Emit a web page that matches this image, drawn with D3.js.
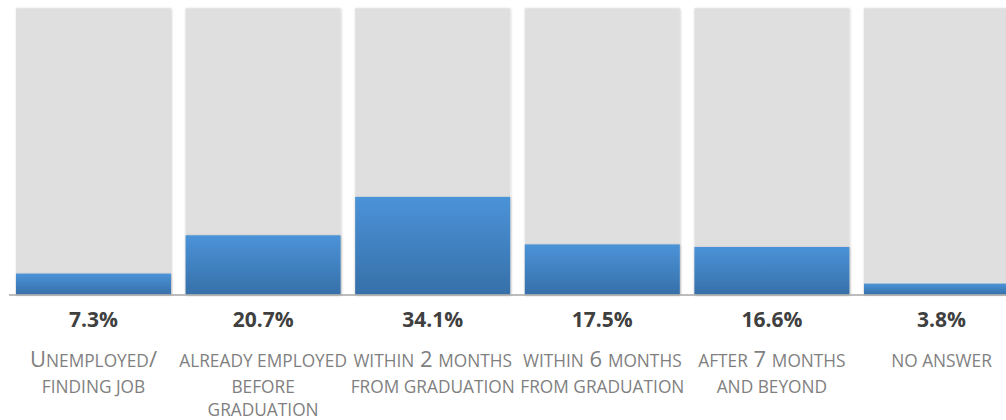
<!DOCTYPE html>
<html>
<head>
<meta charset="utf-8">
<script src="https://cdn.jsdelivr.net/npm/d3@7"></script>
<style>
  html, body { margin: 0; padding: 0; background: #ffffff; }
  svg { display: block; }
  text { font-family: "Open Sans", "DejaVu Sans", sans-serif; }
</style>
</head>
<body>
<svg id="chart" width="1006" height="420"></svg>
<script>
// Share of graduates by time to employment
const categories = ["unemployed", "alreadyEmployed", "within2", "within6", "after7", "noAnswer"];
const values = [7.3, 20.7, 34.1, 17.5, 16.6, 3.8];
const labelLines = [
  ["Unemployed/", "finding job"],
  ["already employed", "before", "graduation"],
  ["within 2 months", "from graduation"],
  ["within 6 months", "from graduation"],
  ["after 7 months", "and beyond"],
  ["no answer"]
];
const fullScale = 100;

const width = 1006, height = 420;
const svg = d3.select("#chart");

const x = d3.scaleBand()
  .domain(categories)
  .range([8.7, 1026.3])
  .paddingInner(0.0861)
  .paddingOuter(0.043);

const y = d3.scaleLinear()
  .domain([0, fullScale])
  .range([294.5, 8.3]);

const defs = svg.append("defs");

const grad = defs.append("linearGradient")
  .attr("id", "barBlue")
  .attr("x1", 0).attr("y1", 0).attr("x2", 0).attr("y2", 1);
grad.append("stop").attr("offset", "0%").attr("stop-color", "#4b93d8");
grad.append("stop").attr("offset", "100%").attr("stop-color", "#3670a9");

const shadow = defs.append("filter")
  .attr("id", "soft")
  .attr("x", "-5%").attr("y", "-5%").attr("width", "110%").attr("height", "110%");
shadow.append("feDropShadow")
  .attr("dx", 0.5).attr("dy", 0.5)
  .attr("stdDeviation", 1)
  .attr("flood-color", "#000")
  .attr("flood-opacity", 0.22);

// Background tracks (100%)
svg.append("g")
  .selectAll("rect")
  .data(categories)
  .join("rect")
  .attr("x", d => x(d))
  .attr("y", y(fullScale))
  .attr("width", x.bandwidth())
  .attr("height", y(0) - y(fullScale))
  .attr("fill", "#dfdfdf")
  .attr("filter", "url(#soft)");

// Value bars
svg.append("g")
  .selectAll("rect")
  .data(values)
  .join("rect")
  .attr("x", (d, i) => x(categories[i]))
  .attr("y", d => y(d))
  .attr("width", x.bandwidth())
  .attr("height", d => y(0) - y(d))
  .attr("fill", "url(#barBlue)")
  .attr("filter", "url(#soft)");

// Baseline
const axis = d3.axisBottom(x).tickSize(0).tickFormat("");
const axisG = svg.append("g")
  .attr("transform", `translate(0,${y(0) + 0.5})`)
  .call(axis);
axisG.select(".domain")
  .attr("d", `M9,0H${width}`)
  .attr("stroke", "#a6a6a6")
  .attr("stroke-width", 1.5);

// Percentage labels
svg.append("g")
  .selectAll("text")
  .data(values)
  .join("text")
  .attr("x", (d, i) => x(categories[i]) + x.bandwidth() / 2)
  .attr("y", 327)
  .attr("text-anchor", "middle")
  .attr("font-weight", 700)
  .attr("font-size", 21)
  .attr("fill", "#404040")
  .text(d => d.toFixed(1) + "%");

// Category labels in small caps: capitals and digits full size, other letters reduced
const capSize = 22, smallSize = 17.3;
function runs(str) {
  const out = [];
  for (const ch of str) {
    const big = !(ch >= "a" && ch <= "z");
    const last = out[out.length - 1];
    if (last && last.big === big) last.t += ch;
    else out.push({ t: ch, big });
  }
  return out;
}
const lineBase = [366.5, 392.5, 416];
const labels = svg.append("g").attr("fill", "#7f7f7f");
labelLines.forEach((lines, i) => {
  const cx = x(categories[i]) + x.bandwidth() / 2;
  lines.forEach((line, j) => {
    const t = labels.append("text")
      .attr("x", cx)
      .attr("y", lineBase[j])
      .attr("text-anchor", "middle");
    t.selectAll("tspan")
      .data(runs(line))
      .join("tspan")
      .attr("font-size", r => r.big && r.t.trim() !== "" ? capSize : smallSize)
      .text(r => r.t.toUpperCase());
  });
});
</script>
</body>
</html>
